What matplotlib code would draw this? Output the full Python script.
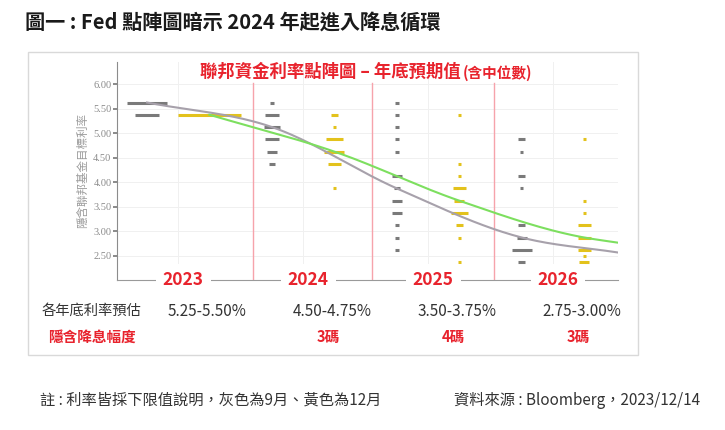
import matplotlib.pyplot as plt
import matplotlib.patches as patches
import matplotlib.transforms as mtransforms
import numpy as np

plt.rcParams['font.family'] = ['Noto Sans CJK TC', 'DejaVu Sans']

# --- data (rates are mid-points of each 25bp band)
years = ["2023", "2024", "2025", "2026"]
sep_rates = [
    [5.625, 5.375],
    [5.625, 5.375, 5.125, 4.875, 4.625, 4.375],
    [5.625, 5.375, 5.125, 4.875, 4.625, 4.125, 3.875, 3.625, 3.375, 3.125, 2.875, 2.625],
    [4.875, 4.625, 4.125, 3.875, 3.125, 2.875, 2.625, 2.375],
]
sep_counts = [
    [12, 7],
    [1, 4, 5, 4, 3, 2],
    [1, 1, 1, 1, 1, 3, 2, 3, 3, 1, 1, 1],
    [2, 1, 2, 1, 2, 3, 6, 2],
]
dec_rates = [
    [5.375],
    [5.375, 5.125, 4.875, 4.625, 4.375, 3.875],
    [5.375, 4.375, 4.125, 3.875, 3.625, 3.375, 3.125, 2.875, 2.375],
    [4.875, 3.625, 3.375, 3.125, 2.875, 2.625, 2.5, 2.375],
]
dec_counts = [
    [19],
    [2, 1, 5, 6, 4, 1],
    [1, 1, 1, 4, 3, 5, 2, 1, 1],
    [1, 1, 1, 4, 4, 4, 1, 3],
]
sep_median = [5.625, 5.125, 3.875, 2.875]
dec_median = [5.375, 4.625, 3.625, 2.875]
sep_tail = 2.57   # where the trend lines leave the chart on the right
dec_tail = 2.77
year_end = ["5.25-5.50%", "4.50-4.75%", "3.50-3.75%", "2.75-3.00%"]
cuts = ["", "3碼", "4碼", "3碼"]
yticks = [2.5, 3.0, 3.5, 4.0, 4.5, 5.0, 5.5, 6.0]

GRAY = "#7a7a7a"
YELLOW = "#e3c21c"
RED = "#e8232d"
XMIN, XMAX = -0.49, 3.52
DOT_W = 0.0264


def smooth(xs, ys, n=40):
    # cubic hermite through the points (catmull-rom style tangents)
    xs, ys = np.asarray(xs, float), np.asarray(ys, float)
    m = np.gradient(ys, xs)
    out_x, out_y = [], []
    for i in range(len(xs) - 1):
        h = xs[i + 1] - xs[i]
        t = np.linspace(0, 1, n)
        h00 = 2 * t**3 - 3 * t**2 + 1
        h10 = t**3 - 2 * t**2 + t
        h01 = -2 * t**3 + 3 * t**2
        h11 = t**3 - t**2
        out_x.append(xs[i] + t * h)
        out_y.append(h00 * ys[i] + h10 * h * m[i] + h01 * ys[i + 1] + h11 * h * m[i + 1])
    return np.concatenate(out_x), np.concatenate(out_y)


fig = plt.figure(figsize=(7.25, 4.30), dpi=100)
W, H = 725, 430


def fx(px):
    return px / W


def fy(py):
    return 1 - py / H


# outer frame
fig.patches.append(patches.Rectangle((fx(28), fy(355)), fx(638) - fx(28), fy(52) - fy(355),
                                     transform=fig.transFigure, fill=False,
                                     edgecolor="#d9d9d9", linewidth=1.0))

fig.text(fx(25), fy(22), "圖一 : Fed 點陣圖暗示 2024 年起進入降息循環",
         fontsize=14.5, fontweight="bold", color="#1a1a1a", va="center")

ax = fig.add_axes([fx(117), fy(280), fx(618) - fx(117), fy(62) - fy(280)])
ax.set_xlim(XMIN, XMAX)
ax.set_ylim(2.01, 6.45)

for s in ["top", "right"]:
    ax.spines[s].set_visible(False)
ax.spines["left"].set_color("#8c8c8c")
ax.spines["bottom"].set_color("#9a9a9a")
ax.spines["left"].set_linewidth(0.8)
ax.spines["bottom"].set_linewidth(0.8)

ax.set_yticks(yticks)
ax.set_yticklabels([f"{v:.2f}" for v in yticks], fontsize=7.5, color="#8a8a8a",
                   family="Liberation Serif")
ax.tick_params(axis="y", length=3, width=1.2, color="#777777", pad=1)
ax.set_xticks([])
for v in yticks:
    ax.axhline(v, color="#f0f0f0", linewidth=0.7, zorder=0)
for i in range(len(years)):
    ax.axvline(i, color="#f0f0f0", linewidth=0.7, zorder=0)
for xs in [0.6, 1.55, 2.53]:
    ax.axvline(xs, ymax=(6.03 - 2.01) / (6.45 - 2.01), color="#f6a3ab", linewidth=1.0, zorder=1)

ax.set_ylabel("隱含聯邦基金目標利率", fontsize=8.3, color="#9a9a9a", labelpad=3)

# dots
for i in range(len(years)):
    for rates, counts, off, col in [(sep_rates[i], sep_counts[i], -0.25, GRAY),
                                    (dec_rates[i], dec_counts[i], 0.25, YELLOW)]:
        for r, c in zip(rates, counts):
            half = c * DOT_W / 2
            ax.hlines(r, i + off - half, i + off + half, color=col, linewidth=2.2, zorder=3)

# median trend lines
gx = [i - 0.25 for i in range(len(years))] + [XMAX]
gx_s, gy_s = smooth(gx, sep_median + [sep_tail])
ax.plot(gx_s, gy_s, color="#a7a1ab", linewidth=1.5, zorder=4)
yx = [i + 0.25 for i in range(len(years))] + [XMAX]
yx_s, yy_s = smooth(yx, dec_median + [dec_tail])
ax.plot(yx_s, yy_s, color="#7ddf5f", linewidth=1.5, zorder=4)

# chart title inside the frame
fig.text(fx(461), fy(72), "聯邦資金利率點陣圖 – 年底預期值", ha="right", va="center",
         fontsize=12.5, fontweight="bold", color=RED)
fig.text(fx(463), fy(73), "(含中位數)", ha="left", va="center",
         fontsize=10.5, fontweight="bold", color=RED)

blend = mtransforms.blended_transform_factory(ax.transData, fig.transFigure)
for i, y in enumerate(years):
    ax.text(i + 0.04, 2.01, y, ha="center", va="center", fontsize=12.5, fontweight="bold",
            color=RED, zorder=6, clip_on=False,
            bbox=dict(facecolor="white", edgecolor="none", pad=5))
    ax.text(i + 0.23, fy(311), year_end[i], transform=blend, ha="center", va="center",
            fontsize=11, color="#333333")
    ax.text(i + 0.2, fy(337), cuts[i], transform=blend, ha="center", va="center",
            fontsize=10.5, fontweight="bold", color=RED)

fig.text(fx(42), fy(311), "各年底利率預估", ha="left", va="center", fontsize=10.3, color="#333333")
fig.text(fx(48), fy(337), "隱含降息幅度", ha="left", va="center", fontsize=10.5,
         fontweight="bold", color=RED)

fig.text(fx(40), fy(400), "註 : 利率皆採下限值說明，灰色為9月、黃色為12月", ha="left", va="center",
         fontsize=11, color="#333333")
fig.text(fx(700), fy(400), "資料來源 : Bloomberg，2023/12/14", ha="right", va="center",
         fontsize=11, color="#333333")

fig.savefig("out.png", dpi=100)
